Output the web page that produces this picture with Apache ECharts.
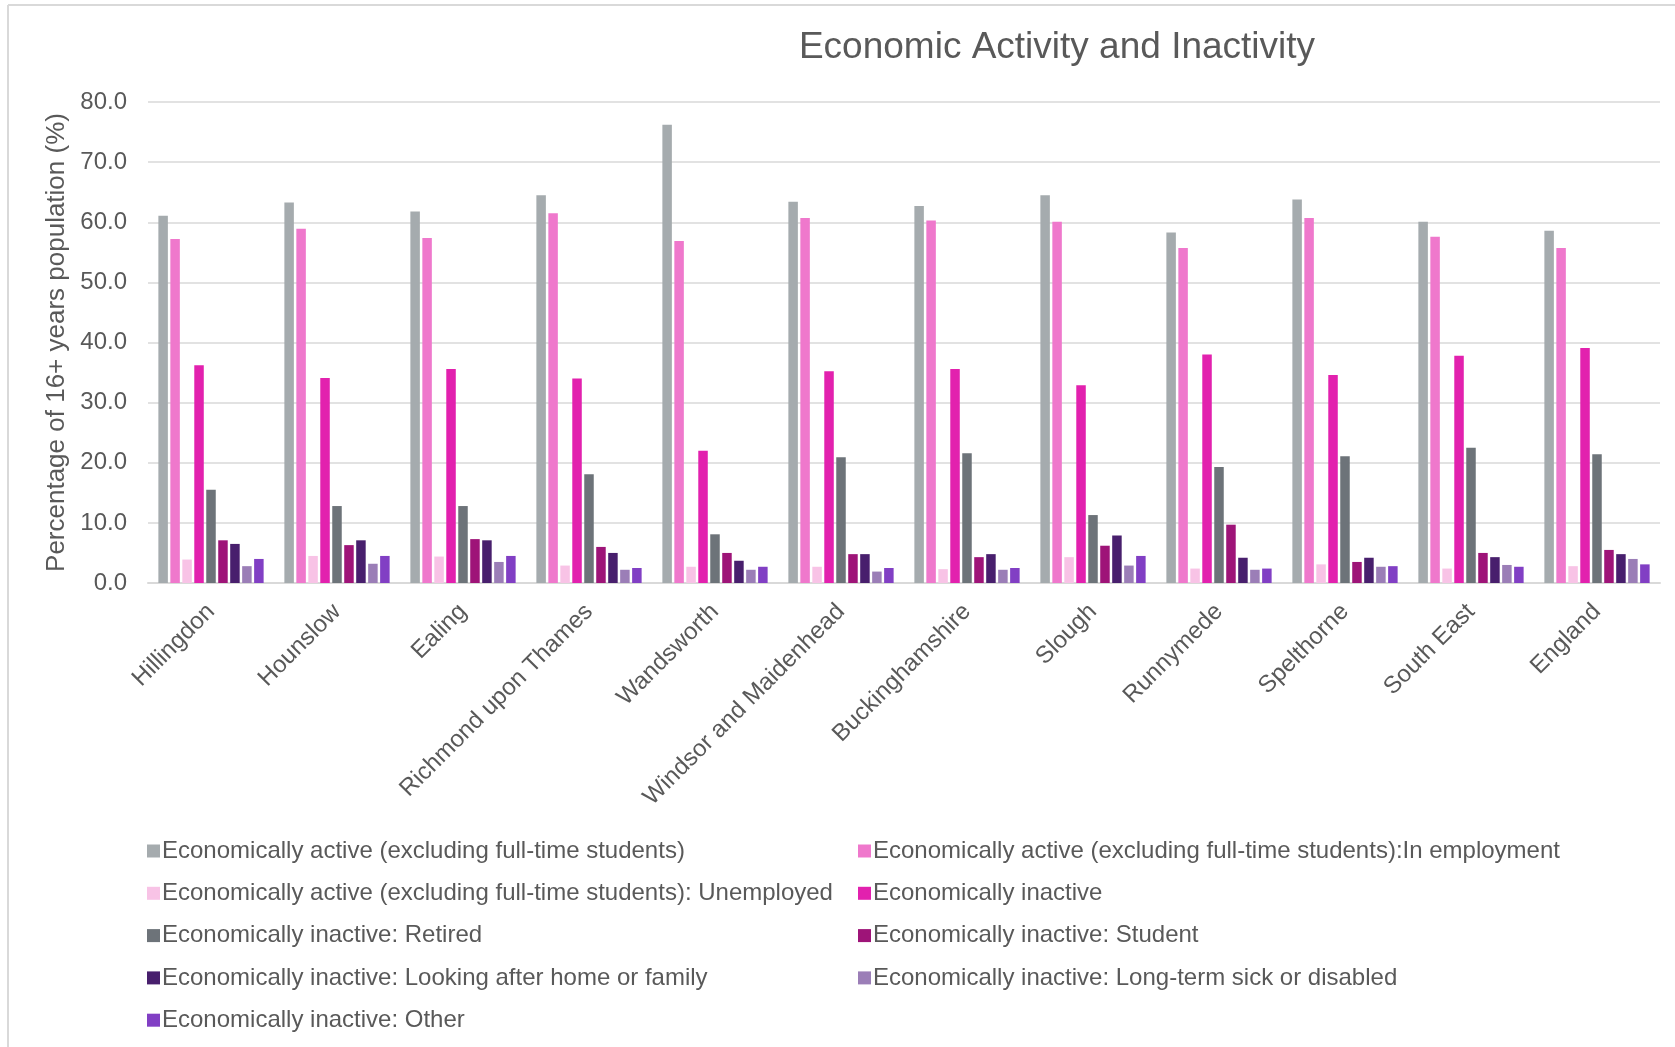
<!DOCTYPE html>
<html>
<head>
<meta charset="utf-8">
<script src="https://cdn.jsdelivr.net/npm/echarts@6/dist/echarts.min.js"></script>
<style>
html,body{margin:0;padding:0;background:#fff;}
#chart{width:1675px;height:1047px;}
</style>
</head>
<body>
<div id="chart"></div>
<script>
const categories = ['Hillingdon','Hounslow','Ealing','Richmond upon Thames','Wandsworth','Windsor and Maidenhead','Buckinghamshire','Slough','Runnymede','Spelthorne','South East','England'];
const yTicks = [0, 10, 20, 30, 40, 50, 60, 70, 80];

const activeExclStudents = [61.1, 63.3, 61.8, 64.5, 76.2, 63.4, 62.7, 64.5, 58.3, 63.8, 60.1, 58.6];
const activeInEmployment = [57.2, 58.9, 57.4, 61.5, 56.9, 60.7, 60.3, 60.1, 55.7, 60.7, 57.6, 55.7];
const activeUnemployed   = [3.9, 4.5, 4.4, 2.9, 2.7, 2.7, 2.3, 4.3, 2.4, 3.1, 2.4, 2.8];
const inactive           = [36.2, 34.1, 35.6, 34.0, 22.0, 35.2, 35.6, 32.9, 38.0, 34.6, 37.8, 39.1];
const inactiveRetired    = [15.5, 12.8, 12.8, 18.1, 8.1, 20.9, 21.6, 11.3, 19.3, 21.1, 22.5, 21.4];
const inactiveStudent    = [7.1, 6.3, 7.3, 6.0, 5.0, 4.8, 4.3, 6.2, 9.7, 3.5, 5.0, 5.5];
const inactiveHome       = [6.5, 7.1, 7.1, 5.0, 3.7, 4.8, 4.8, 7.9, 4.2, 4.2, 4.3, 4.8];
const inactiveSick       = [2.8, 3.2, 3.5, 2.2, 2.2, 1.9, 2.2, 2.9, 2.2, 2.7, 3.0, 4.0];
const inactiveOther      = [4.0, 4.5, 4.5, 2.5, 2.7, 2.5, 2.5, 4.5, 2.4, 2.8, 2.7, 3.1];

const seriesNames = [
  'Economically active (excluding full-time students)',
  'Economically active (excluding full-time students):In employment',
  'Economically active (excluding full-time students): Unemployed',
  'Economically inactive',
  'Economically inactive: Retired',
  'Economically inactive: Student',
  'Economically inactive: Looking after home or family',
  'Economically inactive: Long-term sick or disabled',
  'Economically inactive: Other'
];
const seriesValues = [activeExclStudents, activeInEmployment, activeUnemployed, inactive, inactiveRetired, inactiveStudent, inactiveHome, inactiveSick, inactiveOther];
const seriesColors = ['#A5ABAE','#EF78CC','#F8C3E6','#E221AE','#6D7379','#9E1478','#481F6D','#9B7EB7','#813FC4'];

const FONT = '"Liberation Sans", Arial, sans-serif';
const TXT = '#595959';

const chart = echarts.init(document.getElementById('chart'));
const legendStyle = {
  orient: 'vertical',
  padding: 0,
  itemWidth: 13,
  itemHeight: 13,
  itemGap: 18.3,
  icon: 'rect',
  textStyle: { fontFamily: FONT, fontSize: 24, color: TXT, padding: [0, 0, 0, -3] },
  selectedMode: false
};
chart.setOption({
  animation: false,
  backgroundColor: '#fff',
  color: seriesColors,
  title: {
    text: 'Economic Activity and Inactivity',
    left: 1052, top: 24, textAlign: 'center',
    textStyle: { fontFamily: FONT, fontSize: 37, fontWeight: 'normal', color: TXT }
  },
  legend: [
    Object.assign({ left: 147, top: 839, data: [seriesNames[0], seriesNames[2], seriesNames[4], seriesNames[6], seriesNames[8]] }, legendStyle),
    Object.assign({ left: 858, top: 839, data: [seriesNames[1], seriesNames[3], seriesNames[5], seriesNames[7]] }, legendStyle)
  ],
  graphic: [
    { type: 'line', shape: { x1: 8, y1: 5, x2: 1675, y2: 5 }, style: { stroke: '#D9D9D9', lineWidth: 2 } },
    { type: 'line', shape: { x1: 8, y1: 5, x2: 8, y2: 1047 }, style: { stroke: '#D9D9D9', lineWidth: 2 } }
  ],
  grid: { left: 148, right: 15, top: 102, bottom: 464, containLabel: false },
  xAxis: {
    type: 'category',
    data: categories,
    axisLine: { lineStyle: { color: '#D9D9D9', width: 2 } },
    axisTick: { show: false },
    axisLabel: { rotate: 45, margin: 25, interval: 0, fontFamily: FONT, fontSize: 24, color: TXT }
  },
  yAxis: {
    type: 'value',
    min: 0, max: 80, interval: 10,
    name: 'Percentage of 16+ years population (%)',
    nameLocation: 'middle',
    nameGap: 77,
    nameTextStyle: { fontFamily: FONT, fontSize: 26, color: TXT },
    axisLine: { show: false },
    axisTick: { show: false },
    splitLine: { lineStyle: { color: '#D9D9D9', width: 1.5 } },
    axisLabel: {
      margin: 21, fontFamily: FONT, fontSize: 24, color: TXT,
      formatter: v => yTicks.indexOf(v) >= 0 ? v.toFixed(1) : ''
    }
  },
  series: seriesNames.map((n, i) => ({
    name: n,
    type: 'bar',
    data: seriesValues[i],
    barWidth: 9.5,
    barGap: '26%',
    itemStyle: { color: seriesColors[i] }
  }))
});
</script>
</body>
</html>
